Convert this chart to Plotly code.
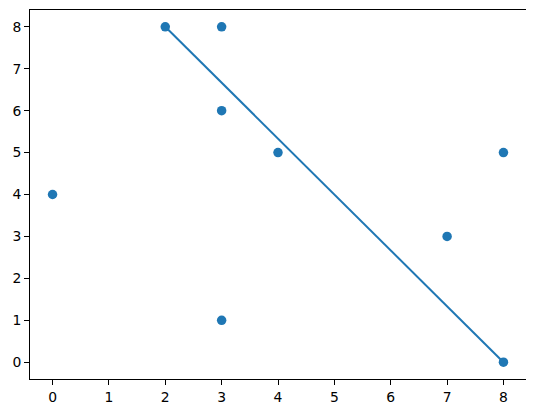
import plotly.graph_objects as go

x_pts = [0, 2, 3, 3, 3, 4, 7, 8, 8]
y_pts = [4, 8, 8, 6, 1, 5, 3, 5, 0]
line_x = [2, 8]
line_y = [8, 0]
ticks = list(range(0, 9))

color = "#1f77b4"
fig = go.Figure()
fig.add_trace(go.Scatter(x=line_x, y=line_y, mode="lines",
                         line=dict(color=color, width=2), showlegend=False, hoverinfo="skip"))
fig.add_trace(go.Scatter(x=x_pts, y=y_pts, mode="markers",
                         marker=dict(color=color, size=9.5, line=dict(width=0)), showlegend=False))

axis_common = dict(showgrid=False, zeroline=False, showline=True, mirror=True,
                   linecolor="black", linewidth=1, ticks="outside", ticklen=5,
                   tickwidth=1, tickcolor="black", tickvals=ticks,
                   ticktext=[str(t) for t in ticks], automargin=False,
                   tickfont=dict(family="DejaVu Sans", size=13.9, color="black"))
fig.update_xaxes(range=[-0.4, 8.4], **axis_common)
fig.update_yaxes(range=[-0.4, 8.4], **axis_common)
# page body has an 8px default margin, so the figure is offset by 8px
fig.update_layout(width=526, height=405, plot_bgcolor="white", paper_bgcolor="white",
                  margin=dict(l=22, r=8, t=2, b=34, autoexpand=False))
fig.write_html("out.html")
